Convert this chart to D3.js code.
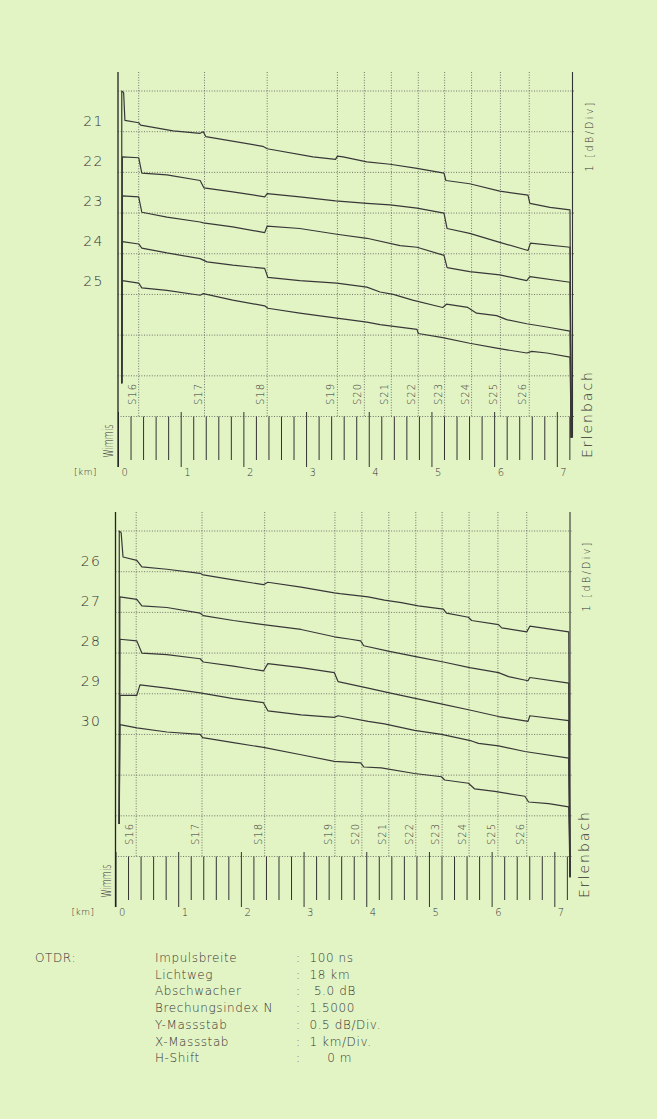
<!DOCTYPE html>
<html>
<head>
<meta charset="utf-8">
<script src="https://cdn.jsdelivr.net/npm/d3@7"></script>
<style>
  body { margin: 0; background: #e3f4c4; }
  svg { display: block; }
  text { font-family: 'DejaVu Sans', sans-serif; font-weight: 200; fill: #333; }
</style>
</head>
<body>
<div id="chart"></div>
<script>
// OTDR traces, two plots (fibres 21-25 and 26-30), Wimmis -> Erlenbach
// distance in km, level as dB below the top grid line (0.5 dB / div)

var spliceNames = ['S16', 'S17', 'S18', 'S19', 'S20', 'S21', 'S22', 'S23', 'S24', 'S25', 'S26']
var spliceKm = [0.33, 1.38, 2.38, 3.50, 3.93, 4.36, 4.79, 5.21, 5.64, 6.10, 6.56]
var kmLabels = [0, 1, 2, 3, 4, 5, 6, 7]
var gridDb = [0, 0.5, 1, 1.5, 2, 2.5, 3, 3.5, 4]

var namesTop = ['21', '22', '23', '24', '25']
var namesBottom = ['26', '27', '28', '29', '30']

var trace21 = [[0.06, 3.59], [0.06, 0.0], [0.09, 0.02], [0.11, 0.36], [0.33, 0.39], [0.36, 0.42], [0.88, 0.49], [1.31, 0.52], [1.36, 0.50], [1.40, 0.56], [2.31, 0.68], [2.38, 0.71], [3.11, 0.81], [3.47, 0.84], [3.50, 0.80], [3.59, 0.81], [3.97, 0.87], [4.34, 0.90], [4.77, 0.95], [5.20, 1.01], [5.23, 1.10], [5.61, 1.14], [6.09, 1.23], [6.54, 1.28], [6.57, 1.38], [6.89, 1.43], [7.21, 1.46], [7.23, 4.26]]
var trace22 = [[0.06, 3.59], [0.07, 0.81], [0.33, 0.82], [0.38, 1.01], [0.78, 1.03], [1.31, 1.10], [1.37, 1.19], [1.83, 1.24], [2.34, 1.30], [2.38, 1.26], [2.90, 1.30], [3.47, 1.35], [3.97, 1.38], [4.34, 1.40], [4.77, 1.44], [5.20, 1.50], [5.25, 1.69], [5.61, 1.75], [6.09, 1.86], [6.54, 1.96], [6.58, 1.87], [7.21, 1.92], [7.23, 4.26]]
var trace23 = [[0.06, 3.59], [0.07, 1.29], [0.33, 1.30], [0.38, 1.49], [0.78, 1.55], [1.31, 1.61], [1.36, 1.62], [1.83, 1.67], [2.34, 1.74], [2.38, 1.66], [2.90, 1.69], [3.49, 1.76], [3.97, 1.81], [4.50, 1.90], [4.77, 1.92], [5.20, 2.02], [5.25, 2.17], [5.61, 2.22], [6.09, 2.26], [6.52, 2.33], [6.57, 2.28], [7.21, 2.35], [7.23, 4.26]]
var trace24 = [[0.06, 3.59], [0.07, 1.85], [0.33, 1.88], [0.38, 1.93], [0.78, 1.99], [1.31, 2.06], [1.42, 2.10], [1.83, 2.14], [2.34, 2.18], [2.39, 2.29], [2.90, 2.33], [3.49, 2.36], [3.97, 2.41], [4.18, 2.47], [4.39, 2.50], [4.70, 2.57], [5.18, 2.66], [5.24, 2.62], [5.58, 2.66], [5.72, 2.73], [6.04, 2.76], [6.20, 2.81], [6.52, 2.86], [6.84, 2.90], [7.21, 2.95], [7.23, 4.26]]
var trace25 = [[0.06, 3.59], [0.07, 2.33], [0.33, 2.36], [0.38, 2.42], [0.78, 2.45], [1.31, 2.51], [1.36, 2.49], [1.83, 2.57], [2.34, 2.64], [2.39, 2.67], [2.90, 2.73], [3.49, 2.79], [3.97, 2.84], [4.18, 2.87], [4.77, 2.93], [4.79, 2.98], [5.18, 3.03], [5.61, 3.10], [6.04, 3.16], [6.52, 3.22], [6.60, 3.20], [6.84, 3.22], [7.21, 3.27], [7.23, 4.26]]

var trace26 = [[0.06, 3.60], [0.06, 0.0], [0.09, 0.02], [0.12, 0.32], [0.34, 0.36], [0.42, 0.44], [0.82, 0.47], [1.35, 0.52], [1.40, 0.54], [1.88, 0.60], [2.36, 0.66], [2.43, 0.63], [2.96, 0.69], [3.49, 0.76], [3.58, 0.77], [4.03, 0.81], [4.29, 0.85], [4.56, 0.88], [4.83, 0.92], [5.23, 0.96], [5.28, 1.01], [5.63, 1.06], [5.68, 1.10], [6.11, 1.15], [6.16, 1.19], [6.56, 1.24], [6.61, 1.17], [7.23, 1.24], [7.25, 4.25]]
var trace27 = [[0.06, 3.60], [0.07, 0.81], [0.34, 0.84], [0.42, 0.92], [0.82, 0.94], [1.35, 1.01], [1.40, 1.04], [1.88, 1.10], [2.36, 1.15], [2.96, 1.21], [3.49, 1.30], [3.75, 1.33], [3.91, 1.35], [3.96, 1.41], [4.37, 1.48], [4.83, 1.55], [5.23, 1.61], [5.65, 1.68], [6.11, 1.74], [6.27, 1.79], [6.58, 1.84], [6.61, 1.80], [7.23, 1.87], [7.25, 4.25]]
var trace28 = [[0.06, 3.60], [0.07, 1.33], [0.34, 1.35], [0.42, 1.50], [0.82, 1.52], [1.35, 1.57], [1.40, 1.61], [1.88, 1.66], [2.36, 1.72], [2.43, 1.63], [2.96, 1.68], [3.49, 1.74], [3.55, 1.85], [4.03, 1.93], [4.37, 1.99], [4.80, 2.06], [5.23, 2.13], [5.65, 2.20], [6.11, 2.28], [6.58, 2.34], [6.61, 2.27], [7.23, 2.33], [7.25, 4.25]]
var trace29 = [[0.06, 3.60], [0.07, 2.02], [0.34, 2.02], [0.39, 1.89], [0.82, 1.93], [1.35, 1.99], [1.88, 2.06], [2.36, 2.11], [2.43, 2.21], [2.96, 2.26], [3.49, 2.29], [3.55, 2.27], [4.03, 2.34], [4.29, 2.37], [4.77, 2.45], [5.20, 2.50], [5.68, 2.58], [5.79, 2.61], [6.11, 2.64], [6.53, 2.71], [7.23, 2.79], [7.25, 4.25]]
var trace30 = [[0.06, 3.60], [0.07, 2.38], [0.34, 2.42], [0.82, 2.47], [1.35, 2.50], [1.39, 2.54], [1.88, 2.60], [2.36, 2.66], [2.96, 2.75], [3.49, 2.83], [3.91, 2.85], [3.96, 2.90], [4.24, 2.91], [4.77, 2.98], [5.20, 3.02], [5.25, 3.06], [5.63, 3.10], [5.73, 3.17], [6.05, 3.20], [6.53, 3.26], [6.59, 3.33], [6.91, 3.35], [7.23, 3.39], [7.25, 4.25]]

var otdrLabels = ['Impulsbreite', 'Lichtweg', 'Abschwacher', 'Brechungsindex N', 'Y-Massstab', 'X-Massstab', 'H-Shift']
var otdrValues = ['100 ns', '18 km', ' 5.0 dB', '1.5000', '0.5 dB/Div.', '1 km/Div.', '    0 m']

var width = 657
var height = 1119

var x = d3.scaleLinear().domain([0, 7.25]).range([0, 454.5])
var y = d3.scaleLinear().domain([0, 4]).range([0, 325.5])

var line = d3.line()
  .x(function(d) { return x(d[0]) })
  .y(function(d) { return y(d[1]) })

var svg = d3.select('#chart')
  .append('svg')
  .attr('width', width)
  .attr('height', height)

svg.append('rect')
  .attr('width', width)
  .attr('height', height)
  .attr('fill', '#e3f4c4')

function drawPanel(left, top, traces, names) {
  var g = svg.append('g').attr('transform', 'translate(' + left + ',' + top + ')')
  var xEnd = x(7.25)

  //dotted grid
  g.selectAll('.hgrid')
    .data(gridDb)
    .enter()
    .append('line')
    .attr('x1', 0)
    .attr('x2', xEnd + 3)
    .attr('y1', function(d) { return y(d) })
    .attr('y2', function(d) { return y(d) })
    .attr('stroke', '#555')
    .attr('stroke-width', 0.8)
    .attr('stroke-dasharray', '1,1.6')

  g.selectAll('.vgrid')
    .data(spliceKm)
    .enter()
    .append('line')
    .attr('x1', function(d) { return x(d) })
    .attr('x2', function(d) { return x(d) })
    .attr('y1', -19)
    .attr('y2', y(4))
    .attr('stroke', '#555')
    .attr('stroke-width', 0.8)
    .attr('stroke-dasharray', '1,1.6')

  //km axis: minor ticks every 200 m, long ticks every km
  var minor = d3.range(1, 37).map(function(i) { return i * 0.2 }).filter(function(d) { return Math.abs(d - Math.round(d)) > 0.01 })
  g.append('g')
    .attr('transform', 'translate(0,' + y(4) + ')')
    .call(d3.axisBottom(x).tickValues(minor).tickSize(43.5).tickFormat(''))
    .call(function(a) {
      a.select('.domain').remove()
      a.selectAll('line').attr('stroke', '#333').attr('stroke-width', 1)
    })

  g.append('g')
    .attr('transform', 'translate(0,' + (y(4) - 4.5) + ')')
    .call(d3.axisBottom(x).tickValues(kmLabels).tickSize(55).tickFormat(d3.format('d')))
    .call(function(a) {
      a.select('.domain').remove()
      a.selectAll('line').attr('stroke', '#333').attr('stroke-width', 1)
      a.selectAll('text')
        .attr('y', 60)
        .attr('dy', '0.35em')
        .attr('x', 3)
        .attr('text-anchor', 'start')
        .style('font-family', "'DejaVu Sans', sans-serif")
        .style('font-weight', 200)
        .style('font-size', '10px')
        .attr('fill', '#333')
    })

  //frame
  g.append('line')
    .attr('x1', 0).attr('x2', 0)
    .attr('y1', -19).attr('y2', 376)
    .attr('stroke', '#222').attr('stroke-width', 1.3)
  g.append('line')
    .attr('x1', xEnd).attr('x2', xEnd)
    .attr('y1', -19).attr('y2', y(4.26))
    .attr('stroke', '#333').attr('stroke-width', 1.1)

  //splice labels
  g.selectAll('.splice')
    .data(spliceKm)
    .enter()
    .append('text')
    .attr('transform', function(d) { return 'translate(' + (x(d) - 3) + ',' + 314 + ') rotate(-90)' })
    .attr('font-size', 10)
    .attr('letter-spacing', 1)
    .text(function(d, i) { return spliceNames[i] })

  //traces
  g.selectAll('.trace')
    .data(traces)
    .enter()
    .append('path')
    .attr('d', line)
    .attr('fill', 'none')
    .attr('stroke', '#383838')
    .attr('stroke-width', 1.2)
    .attr('stroke-linejoin', 'round')

  //fibre numbers
  g.selectAll('.name')
    .data(names)
    .enter()
    .append('text')
    .attr('x', -14)
    .attr('y', function(d, i) { return 30 + i * 40 })
    .attr('dy', '0.35em')
    .attr('text-anchor', 'end')
    .attr('font-size', 14)
    .attr('letter-spacing', 1.5)
    .text(function(d) { return d })

  g.append('text')
    .attr('transform', 'translate(-5,350) rotate(-90)')
    .attr('text-anchor', 'middle')
    .attr('font-size', 14)
    .attr('textLength', 33)
    .attr('lengthAdjust', 'spacingAndGlyphs')
    .text('Wimmis')

  g.append('text')
    .attr('x', -21)
    .attr('y', 381)
    .attr('dy', '0.35em')
    .attr('text-anchor', 'end')
    .attr('font-size', 9)
    .attr('letter-spacing', 0.5)
    .text('[km]')

  g.append('text')
    .attr('transform', 'translate(' + (xEnd + 19) + ',324) rotate(-90)')
    .attr('text-anchor', 'middle')
    .attr('font-size', 14)
    .attr('textLength', 86)
    .attr('lengthAdjust', 'spacing')
    .text('Erlenbach')

  g.append('text')
    .attr('transform', 'translate(' + (xEnd + 20) + ',46) rotate(-90)')
    .attr('text-anchor', 'middle')
    .attr('font-size', 10)
    .attr('textLength', 69)
    .attr('lengthAdjust', 'spacing')
    .text('1 [dB/Div]')
}

drawPanel(118, 91, [trace21, trace22, trace23, trace24, trace25], namesTop)
drawPanel(115.5, 531, [trace26, trace27, trace28, trace29, trace30], namesBottom)

//instrument settings below the plots
var foot = svg.append('g').attr('font-size', 12).attr('letter-spacing', 0.6)
foot.append('text').attr('x', 35).attr('y', 962).text('OTDR:')
otdrLabels.forEach(function(label, i) {
  var yy = 962 + i * 16.7
  foot.append('text').attr('x', 155).attr('y', yy).text(label)
  foot.append('text').attr('x', 296).attr('y', yy).attr('xml:space', 'preserve').text(':  ' + otdrValues[i])
})
</script>
</body>
</html>
